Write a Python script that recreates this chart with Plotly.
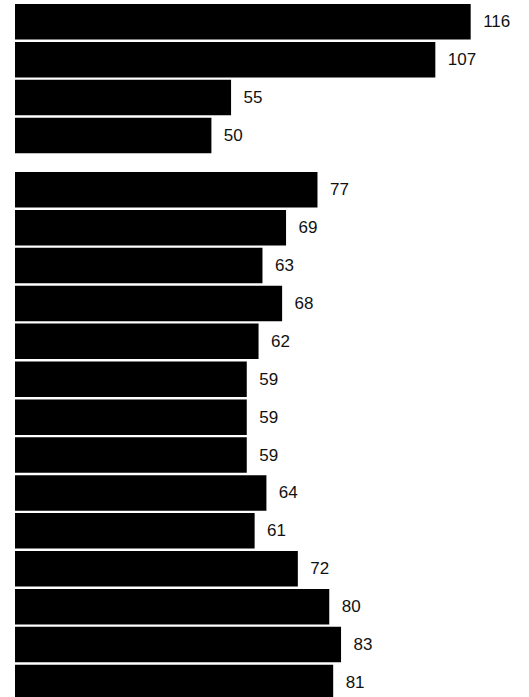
import plotly.graph_objects as go
from plotly.subplots import make_subplots

# Data
group1_labels = ["A1", "A2", "A3", "A4"]
group1_values = [116, 107, 55, 50]
group2_labels = ["B1", "B2", "B3", "B4", "B5", "B6", "B7", "B8", "B9", "B10", "B11", "B12", "B13", "B14"]
group2_values = [77, 69, 63, 68, 62, 59, 59, 59, 64, 61, 72, 80, 83, 81]

W, H = 529, 697
fig = make_subplots(rows=2, cols=1, shared_xaxes=True)

font = dict(family="Liberation Sans, Arial, sans-serif", size=17, color="#111111")

for row, (labels, values) in enumerate([(group1_labels, group1_values), (group2_labels, group2_values)], start=1):
    fig.add_trace(go.Bar(
        x=values, y=labels, orientation="h",
        marker=dict(color="#000000", line=dict(width=0)),
        text=["  " + str(v) for v in values],
        textposition="outside",
        textfont=font,
        cliponaxis=False,
        hoverinfo="skip",
    ), row=row, col=1)

xr = [0, (W - 15.3) / 3.926]
fig.update_xaxes(range=xr, visible=False, showgrid=False, zeroline=False)

pitch = 37.9
top2 = 170.8
g1_top, g1_bot = 2.8, 2.8 + 4 * pitch
fig.update_layout(
    width=W, height=H,
    margin=dict(l=15, r=0, t=0, b=0),
    paper_bgcolor="white", plot_bgcolor="white",
    showlegend=False,
    bargap=0.063,
    uniformtext=dict(mode=False),
    xaxis=dict(domain=[0, 1]),
    xaxis2=dict(domain=[0, 1]),
    yaxis=dict(domain=[1 - g1_bot / H, 1 - g1_top / H], autorange=False,
               range=[3.5, -0.5], visible=False, type="category"),
    yaxis2=dict(domain=[0, 1 - top2 / H], autorange=False,
                range=[-0.5 + (H - top2) / pitch, -0.5], visible=False, type="category"),
)

fig.write_html("out.html", config={"displayModeBar": False, "staticPlot": True},
               post_script="document.body.style.margin='0';")
